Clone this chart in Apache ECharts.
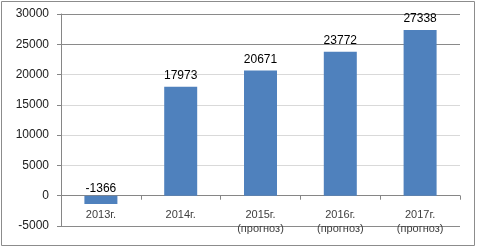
<!DOCTYPE html>
<html>
<head>
<meta charset="utf-8">
<script src="https://cdn.jsdelivr.net/npm/echarts@6/dist/echarts.min.js"></script>
<style>
  html, body { margin: 0; padding: 0; background: #fff; }
</style>
</head>
<body>
<div id="main" style="width: 477px; height: 247px;"></div>
<script>
// данные
var years = ['2013г.', '2014г.', '2015г.\n(прогноз)', '2016г.\n(прогноз)', '2017г.\n(прогноз)'];
var values = [-1366, 17973, 20671, 23772, 27338];
var yTicks = [-5000, 0, 5000, 10000, 15000, 20000, 25000, 30000];

// отрицательное значение подписывается чуть ближе к нулю
var barData = values.map(function (v) {
  return v < 0 ? { value: v, label: { distance: 1 } } : v;
});

var myChart = echarts.init(document.getElementById('main'));
myChart.setOption({
  animation: false,
  textStyle: { fontFamily: 'Liberation Sans, Arial, sans-serif' },
  grid: { left: 61, right: 17, top: 14, bottom: 21, outerBoundsMode: 'none', containLabel: false },
  graphic: [{
    type: 'rect',
    shape: { x: 1.5, y: 1.5, width: 473, height: 244 },
    style: { fill: 'none', stroke: '#8c8c8c', lineWidth: 1 }
  }],
  xAxis: {
    type: 'category',
    data: years,
    axisLine: { onZero: true, lineStyle: { color: '#868686' } },
    axisTick: { show: true, length: 4, lineStyle: { color: '#868686' } },
    axisLabel: { color: '#404040', fontSize: 11, margin: -18, lineHeight: 14 }
  },
  yAxis: {
    type: 'value',
    min: yTicks[0],
    max: yTicks[yTicks.length - 1],
    interval: 5000,
    axisLine: { show: true, lineStyle: { color: '#868686' } },
    axisTick: { show: true, length: 4, lineStyle: { color: '#868686' } },
    axisLabel: {
      color: '#202020', fontSize: 12, margin: 12,
      formatter: function (v) { return String(v); }
    },
    splitLine: {
      lineStyle: {
        color: ['#8a8a8a', '#868686', '#d9d9d9', '#d9d9d9', '#d9d9d9', '#d9d9d9', '#8a8a8a', '#8a8a8a']
      }
    }
  },
  series: [{
    type: 'bar',
    data: barData,
    barWidth: 33,
    itemStyle: { color: '#4f81bd' },
    label: {
      show: true,
      position: 'top',
      distance: 5,
      color: '#000',
      fontSize: 12
    }
  }]
});
</script>
</body>
</html>
